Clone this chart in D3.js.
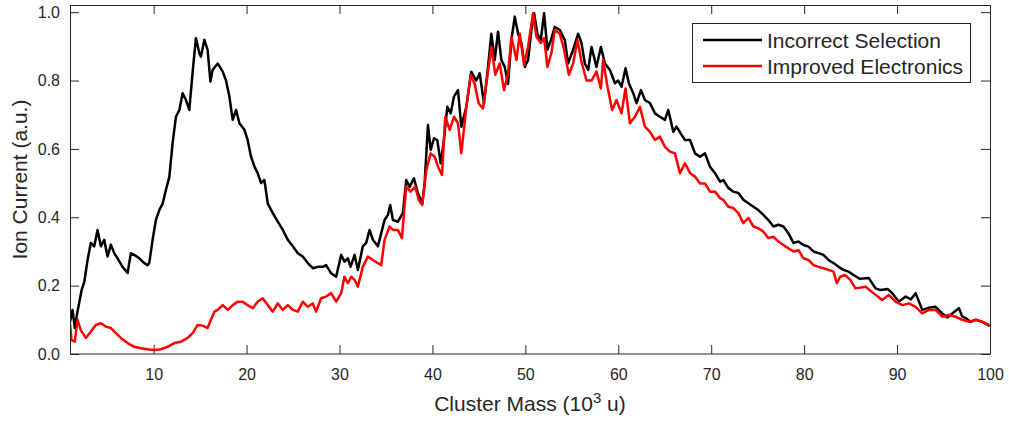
<!DOCTYPE html>
<html>
<head>
<meta charset="utf-8">
<script src="https://cdn.jsdelivr.net/npm/d3@7"></script>
<style>
  body { margin: 0; background: #fff; }
  svg text { font-family: "Liberation Sans", Arial, Helvetica, sans-serif; fill: #262626; }
</style>
</head>
<body>
<svg width="1009" height="421"></svg>
<script>
// tick values
const xTicks = [10, 20, 30, 40, 50, 60, 70, 80, 90, 100]
const yTicks = [0, 0.2, 0.4, 0.6, 0.8, 1.0]
const seriesNames = ['Incorrect Selection', 'Improved Electronics']

// [cluster mass (10^3 u), ion current (a.u.)]
const incorrectSelection = [
  [1.00,0.094],[1.27,0.129],[1.52,0.076],[1.80,0.124],[1.92,0.140],[2.25,0.187],[2.53,0.210],[2.89,0.275],
  [3.24,0.325],[3.61,0.315],[3.96,0.363],[4.32,0.315],[4.68,0.334],[5.04,0.285],[5.40,0.320],[5.76,0.295],
  [6.12,0.280],[6.66,0.255],[7.20,0.237],[7.55,0.295],[7.92,0.290],[8.46,0.280],[8.99,0.266],[9.35,0.260],
  [9.53,0.266],[9.89,0.334],[10.24,0.392],[10.61,0.421],[10.97,0.440],[11.32,0.480],[11.69,0.518],[12.04,0.617],
  [12.40,0.694],[12.77,0.714],[13.12,0.763],[13.48,0.743],[13.84,0.714],[14.20,0.826],[14.55,0.924],[14.92,0.880],
  [15.09,0.870],[15.46,0.919],[15.81,0.890],[16.11,0.797],[16.35,0.831],[16.89,0.850],[17.43,0.826],[17.79,0.800],
  [18.15,0.753],[18.51,0.685],[18.87,0.714],[19.23,0.675],[19.77,0.656],[20.12,0.626],[20.48,0.577],[20.85,0.548],
  [21.20,0.529],[21.56,0.500],[21.92,0.509],[22.28,0.440],[22.82,0.412],[23.36,0.387],[23.90,0.363],[24.44,0.334],
  [24.98,0.315],[25.51,0.295],[26.05,0.285],[26.59,0.266],[27.13,0.251],[27.67,0.255],[28.21,0.255],[28.56,0.260],
  [29.10,0.236],[29.64,0.226],[30.18,0.290],[30.54,0.270],[30.90,0.280],[31.19,0.255],[31.62,0.290],[31.98,0.246],
  [32.51,0.315],[32.87,0.325],[33.24,0.363],[33.59,0.334],[34.13,0.315],[34.49,0.353],[34.85,0.392],[35.21,0.407],
  [35.46,0.436],[35.75,0.392],[36.28,0.387],[36.82,0.412],[37.18,0.509],[37.55,0.489],[38.01,0.514],[38.44,0.470],
  [38.91,0.440],[39.16,0.499],[39.52,0.670],[39.81,0.597],[40.17,0.631],[40.52,0.626],[40.89,0.558],[41.24,0.626],
  [41.60,0.723],[41.97,0.704],[42.32,0.753],[42.75,0.772],[43.11,0.665],[43.65,0.723],[44.18,0.826],[44.72,0.800],
  [45.09,0.821],[45.55,0.733],[45.98,0.840],[46.34,0.937],[46.70,0.860],[47.06,0.943],[47.42,0.860],[47.78,0.840],
  [48.14,0.790],[48.50,0.919],[48.86,0.987],[49.22,0.937],[49.57,0.910],[49.94,0.840],[50.29,0.860],[50.65,0.948],
  [50.94,0.997],[51.30,0.937],[51.66,0.918],[52.02,0.997],[52.37,0.890],[52.74,0.918],[53.17,0.957],[53.71,0.948],
  [54.25,0.918],[54.60,0.850],[55.14,0.890],[55.68,0.937],[56.04,0.910],[56.40,0.850],[56.76,0.831],[57.12,0.898],
  [57.65,0.840],[58.13,0.898],[58.56,0.850],[59.10,0.831],[59.64,0.792],[59.99,0.800],[60.35,0.782],[60.78,0.836],
  [61.14,0.792],[61.61,0.763],[61.96,0.734],[62.44,0.772],[62.87,0.743],[63.41,0.734],[63.95,0.704],[64.48,0.694],
  [65.02,0.685],[65.38,0.714],[65.92,0.650],[66.27,0.665],[66.81,0.641],[67.18,0.626],[67.72,0.626],[68.26,0.587],
  [68.79,0.577],[69.33,0.587],[69.87,0.548],[70.41,0.529],[70.95,0.504],[71.30,0.509],[71.84,0.486],[72.38,0.475],
  [72.92,0.471],[73.46,0.451],[74.00,0.441],[74.54,0.431],[75.07,0.421],[75.61,0.407],[76.15,0.392],[76.69,0.373],
  [77.23,0.378],[77.77,0.373],[78.31,0.353],[78.85,0.325],[79.39,0.329],[79.92,0.319],[80.46,0.314],[81.00,0.300],
  [81.54,0.295],[82.08,0.290],[82.62,0.275],[83.16,0.266],[83.70,0.255],[84.24,0.246],[84.78,0.241],[85.31,0.231],
  [86.00,0.220],[86.96,0.222],[87.68,0.192],[88.22,0.187],[89.00,0.190],[89.48,0.178],[90.19,0.153],[90.92,0.168],
  [91.50,0.160],[91.99,0.178],[92.71,0.129],[93.40,0.135],[94.15,0.138],[94.80,0.120],[95.41,0.107],[95.90,0.118],
  [96.66,0.134],[97.00,0.110],[97.38,0.105],[97.92,0.094],[98.46,0.100],[99.18,0.094],[99.96,0.082]
]

const improvedElectronics = [
  [1.00,0.090],[1.16,0.041],[1.52,0.036],[1.81,0.100],[2.16,0.070],[2.70,0.047],[3.24,0.065],[3.78,0.085],
  [4.32,0.090],[4.86,0.080],[5.40,0.076],[5.94,0.061],[6.47,0.047],[7.20,0.032],[7.92,0.021],[8.63,0.017],
  [9.35,0.014],[10.07,0.012],[10.78,0.014],[11.50,0.021],[12.22,0.032],[12.94,0.036],[13.66,0.047],[14.20,0.061],
  [14.74,0.085],[15.28,0.083],[15.81,0.076],[16.17,0.100],[16.54,0.124],[16.89,0.129],[17.43,0.143],[17.97,0.129],
  [18.51,0.143],[19.04,0.153],[19.58,0.153],[20.12,0.143],[20.66,0.134],[21.20,0.153],[21.74,0.163],[22.28,0.143],
  [22.82,0.124],[23.36,0.148],[23.90,0.129],[24.44,0.143],[24.98,0.129],[25.51,0.124],[26.05,0.153],[26.59,0.138],
  [27.13,0.148],[27.48,0.124],[28.02,0.163],[28.56,0.168],[29.10,0.178],[29.64,0.153],[30.18,0.178],[30.54,0.226],
  [30.90,0.207],[31.26,0.226],[31.62,0.217],[31.98,0.197],[32.51,0.255],[33.05,0.285],[33.59,0.275],[34.13,0.266],
  [34.49,0.260],[34.85,0.334],[35.39,0.373],[35.75,0.363],[36.28,0.363],[36.72,0.339],[37.18,0.490],[37.65,0.475],
  [38.15,0.490],[38.52,0.451],[38.91,0.436],[39.34,0.538],[39.81,0.587],[40.24,0.577],[40.60,0.548],[41.03,0.524],
  [41.38,0.694],[41.86,0.656],[42.32,0.694],[42.75,0.675],[43.11,0.587],[43.65,0.723],[44.12,0.817],[44.55,0.790],
  [44.98,0.733],[45.44,0.718],[45.98,0.826],[46.34,0.898],[46.77,0.817],[47.24,0.850],[47.71,0.772],[48.14,0.821],
  [48.50,0.928],[49.04,0.860],[49.40,0.937],[49.86,0.845],[50.29,0.898],[50.83,0.997],[51.19,0.928],[51.66,0.910],
  [52.02,0.924],[52.37,0.840],[52.80,0.880],[53.17,0.948],[53.71,0.937],[54.17,0.890],[54.68,0.817],[55.14,0.850],
  [55.61,0.918],[56.04,0.855],[56.58,0.800],[57.12,0.800],[57.65,0.826],[58.13,0.777],[58.37,0.860],[58.84,0.782],
  [59.34,0.714],[59.81,0.743],[60.35,0.704],[60.78,0.777],[61.25,0.675],[61.79,0.694],[62.33,0.723],[62.87,0.665],
  [63.41,0.650],[63.95,0.626],[64.48,0.636],[65.02,0.606],[65.56,0.592],[66.10,0.587],[66.64,0.529],[67.18,0.558],
  [67.72,0.529],[68.26,0.519],[68.79,0.499],[69.33,0.499],[69.87,0.475],[70.41,0.475],[70.95,0.456],[71.30,0.451],
  [71.84,0.431],[72.38,0.427],[72.92,0.412],[73.46,0.383],[74.00,0.398],[74.54,0.373],[75.07,0.368],[75.61,0.358],
  [76.15,0.339],[76.69,0.343],[77.23,0.329],[77.77,0.319],[78.31,0.309],[78.85,0.300],[79.39,0.304],[79.92,0.280],
  [80.46,0.275],[81.00,0.260],[81.54,0.255],[82.08,0.251],[82.62,0.246],[83.16,0.241],[83.52,0.207],[83.88,0.226],
  [84.42,0.231],[84.96,0.217],[85.53,0.192],[86.60,0.197],[87.68,0.173],[88.40,0.158],[89.11,0.173],[89.84,0.153],
  [90.56,0.143],[91.27,0.148],[91.99,0.138],[92.71,0.119],[93.43,0.129],[94.15,0.129],[94.87,0.109],[95.58,0.114],
  [96.30,0.109],[97.02,0.100],[97.74,0.094],[98.46,0.100],[99.18,0.094],[99.89,0.085]
]

const svg = d3.select('svg')
const margin = {top: 5, right: 19, bottom: 67, left: 70}
const graphWidth = 1009 - margin.left - margin.right
const graphHeight = 421 - margin.top - margin.bottom

const graph = svg.append('g')
  .attr('transform', `translate(${margin.left},${margin.top})`)

// scales
const x = d3.scaleLinear().domain([1, 100]).range([0, graphWidth])
const y = d3.scaleLinear().domain([0, 1.021]).range([graphHeight, 0])

// axes, ticks point inward on all four sides
const tickLen = 9
const xAxisGroup = graph.append('g').attr('transform', `translate(0,${graphHeight})`)
  .call(d3.axisBottom(x).tickValues(xTicks).tickSize(-tickLen).tickSizeOuter(0).tickPadding(14.5))
const yAxisGroup = graph.append('g')
  .call(d3.axisLeft(y).tickValues(yTicks).tickFormat(d3.format('.1f')).tickSize(-tickLen).tickSizeOuter(0).tickPadding(10))
const topAxisGroup = graph.append('g')
  .call(d3.axisTop(x).tickValues(xTicks).tickSize(-tickLen).tickSizeOuter(0).tickFormat(''))
const rightAxisGroup = graph.append('g').attr('transform', `translate(${graphWidth},0)`)
  .call(d3.axisRight(y).tickValues(yTicks).tickSize(-tickLen).tickSizeOuter(0).tickFormat(''))

graph.selectAll('.domain').remove()
graph.selectAll('.tick line').attr('stroke', '#262626')
graph.selectAll('.tick text').attr('font-size', 16).attr('fill', '#262626')
  .style('font-family', '"Liberation Sans", Arial, sans-serif')

// clip lines to the plot box
svg.append('clipPath').attr('id', 'plotClip')
  .append('rect').attr('width', graphWidth).attr('height', graphHeight)

const line = d3.line()
  .x(d => x(d[0]))
  .y(d => y(d[1]))

const lines = graph.append('g').attr('clip-path', 'url(#plotClip)')
lines.append('path')
  .datum(incorrectSelection)
  .attr('fill', 'none')
  .attr('stroke', '#000')
  .attr('stroke-width', 2.5)
  .attr('stroke-linejoin', 'round')
  .attr('d', line)
lines.append('path')
  .datum(improvedElectronics)
  .attr('fill', 'none')
  .attr('stroke', '#ff0000')
  .attr('stroke-width', 2.5)
  .attr('stroke-linejoin', 'round')
  .attr('d', line)

// box
graph.append('rect')
  .attr('x', 0.5).attr('y', 0.5)
  .attr('width', graphWidth).attr('height', graphHeight - 0.5)
  .attr('fill', 'none')
  .attr('stroke', '#262626')
  .attr('stroke-width', 1)

// axis labels
const xLabel = svg.append('text')
  .attr('x', margin.left + graphWidth / 2)
  .attr('y', 411)
  .attr('text-anchor', 'middle')
  .attr('font-size', 21)
xLabel.append('tspan').text('Cluster Mass (10')
xLabel.append('tspan').attr('font-size', 15).attr('dy', -8).text('3')
xLabel.append('tspan').attr('dy', 8).text(' u)')

svg.append('text')
  .attr('transform', `translate(27,${margin.top + graphHeight / 2}) rotate(-90)`)
  .attr('text-anchor', 'middle')
  .attr('font-size', 21)
  .text('Ion Current (a.u.)')

// legend
const legend = svg.append('g')
legend.append('rect')
  .attr('x', 692.5).attr('y', 23.5)
  .attr('width', 278).attr('height', 59)
  .attr('fill', '#fff')
  .attr('stroke', '#262626')
const legendColors = ['#000', '#ff0000']
seriesNames.forEach((name, i) => {
  const ly = 40 + i * 26
  legend.append('line')
    .attr('x1', 703).attr('x2', 762)
    .attr('y1', ly).attr('y2', ly)
    .attr('stroke', legendColors[i])
    .attr('stroke-width', 2.5)
  legend.append('text')
    .attr('x', 767).attr('y', ly + 7.5)
    .attr('font-size', 21)
    .text(name)
})
</script>
</body>
</html>
